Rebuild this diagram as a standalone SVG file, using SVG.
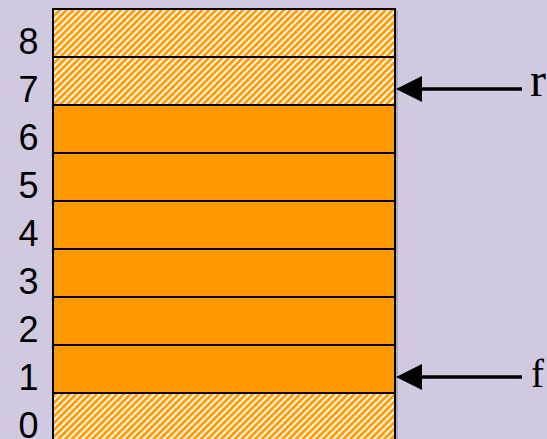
<svg xmlns="http://www.w3.org/2000/svg" width="547" height="439" viewBox="0 0 547 439">
<defs>
<pattern id="hatch" width="4.8" height="4.8" patternUnits="userSpaceOnUse" patternTransform="rotate(45)">
<rect width="4.8" height="4.8" fill="#FFF6E6"/>
<rect width="2.7" height="4.8" fill="#FF9900"/>
</pattern>
</defs>
<style>
.num{font-family:"Liberation Sans",Arial,sans-serif;font-size:36px;fill:#000;text-anchor:middle}
.lbl{font-family:"Liberation Serif","Times New Roman",serif;fill:#000}
.solid{fill:#FF9900;stroke:#000;stroke-width:2}
.hatched{fill:url(#hatch);stroke:#000;stroke-width:2}
.conn{stroke:#000;stroke-width:3.5;fill:none}
</style>
<rect width="547" height="439" fill="#D0C9E0"/>
<line x1="397" y1="10" x2="397" y2="439" stroke="#8A8494" stroke-width="1"/>
<g id="cell8"><rect class="hatched" x="53" y="9" width="342" height="48"/><text class="num" x="28.5" y="54">8</text></g>
<g id="cell7"><rect class="hatched" x="53" y="57" width="342" height="48"/><text class="num" x="28.5" y="102">7</text></g>
<g id="cell6"><rect class="solid" x="53" y="105" width="342" height="48"/><text class="num" x="28.5" y="150">6</text></g>
<g id="cell5"><rect class="solid" x="53" y="153" width="342" height="48"/><text class="num" x="28.5" y="198">5</text></g>
<g id="cell4"><rect class="solid" x="53" y="201" width="342" height="48"/><text class="num" x="28.5" y="246">4</text></g>
<g id="cell3"><rect class="solid" x="53" y="249" width="342" height="48"/><text class="num" x="28.5" y="294">3</text></g>
<g id="cell2"><rect class="solid" x="53" y="297" width="342" height="48"/><text class="num" x="28.5" y="342">2</text></g>
<g id="cell1"><rect class="solid" x="53" y="345" width="342" height="48"/><text class="num" x="28.5" y="390">1</text></g>
<g id="cell0"><rect class="hatched" x="53" y="393" width="342" height="50"/><text class="num" x="28.5" y="438">0</text></g>
<g id="rear"><text class="lbl" x="530" y="96" font-size="48">r</text></g>
<g id="front"><text class="lbl" x="531" y="387" font-size="39">f</text></g>
<g id="connectors">
<line class="conn" x1="420" y1="89" x2="522" y2="89"/>
<polygon points="396,89 422,76 422,102" fill="#000"/>
<line class="conn" x1="420" y1="377" x2="522" y2="377"/>
<polygon points="396,377 422,364 422,390" fill="#000"/>
</g>
</svg>
